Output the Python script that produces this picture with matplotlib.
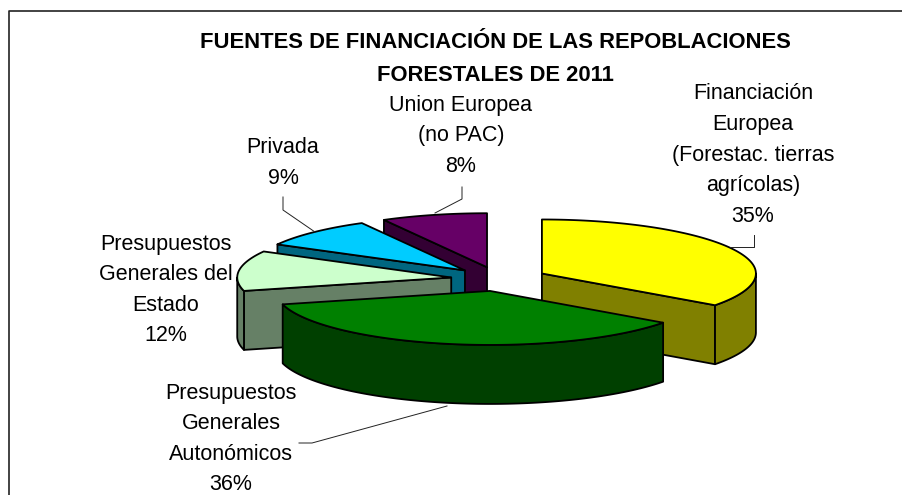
import numpy as np
import matplotlib
matplotlib.use('Agg')
import matplotlib.pyplot as plt
from matplotlib.patches import Polygon
from matplotlib.colors import to_rgb

plt.rcParams['font.family'] = ['Liberation Sans', 'DejaVu Sans']

sources = ['Financiación\nEuropea\n(Forestac. tierras\nagrícolas)',
           'Presupuestos\nGenerales\nAutonómicos',
           'Presupuestos\nGenerales del\nEstado',
           'Privada',
           'Union Europea\n(no PAC)']
shares = [35, 36, 12, 9, 8]
colors = ['#FFFF00', '#008000', '#CCFFCC', '#00CCFF', '#660066']

# label placement in pixels, same order as sources
label_x = [753, 231, 166, 283, 461]
label_y = [155, 439, 290, 163, 136]
leaders = [[(730, 247), (754, 247), (754, 235)],
           [(299, 443), (312, 443), (447, 406)],
           [],
           [(283, 197), (283, 210), (315, 232)],
           [(462, 187), (462, 199), (435, 213)]]

# 3d look of the pie, in pixels
cx, cy = 499, 279
rx, ry = 214, 54
depth = 59
explode = 0.225
edge = 1.3


def rim(a, b, x0, y0):
    t = np.radians(np.linspace(a, b, max(int(abs(b - a)) * 2, 2)))
    return np.column_stack((x0 + rx * np.sin(t), y0 - ry * np.cos(t)))


def add_face(ax, pts, color):
    ax.add_patch(Polygon(pts, closed=True, fc=color, ec='black', lw=edge, joinstyle='round'))


def draw_slice(ax, a, b, color):
    mid = np.radians((a + b) / 2)
    x0 = cx + explode * rx * np.sin(mid)
    y0 = cy - explode * ry * np.cos(mid)
    side = tuple(c * 0.5 for c in to_rgb(color))
    down = np.array([0, depth])
    apex = np.array([x0, y0])

    # flat cut faces, only the ones turned to the viewer
    if np.cos(np.radians(a - 90)) < -1e-6:
        p = rim(a, a, x0, y0)[0]
        add_face(ax, [apex, p, p + down, apex + down], side)
    if np.cos(np.radians(b + 90)) < -1e-6:
        p = rim(b, b, x0, y0)[0]
        add_face(ax, [apex, p, p + down, apex + down], side)

    # outer wall
    lo, hi = max(a, 90), min(b, 270)
    if hi > lo:
        arc = rim(lo, hi, x0, y0)
        add_face(ax, np.vstack((arc, arc[::-1] + down)), side)

    add_face(ax, np.vstack((apex, rim(a, b, x0, y0))), color)


fig = plt.figure(figsize=(9.03, 4.95), dpi=100)
ax = fig.add_axes([0, 0, 1, 1])
ax.set_xlim(0, 903)
ax.set_ylim(495, 0)
ax.axis('off')

# chart frame runs off the right and bottom of the picture
ax.plot([9.5, 9.5, 903], [495, 11, 11], color='#222222', lw=1.2)

edges = np.concatenate(([0], np.cumsum(shares))) * 360 / sum(shares)
for i in [4, 3, 2, 0, 1]:
    draw_slice(ax, edges[i], edges[i + 1], colors[i])

for line in leaders:
    if line:
        xs, ys = zip(*line)
        ax.plot(xs, ys, color='#222222', lw=0.7)

for name, share, x, y in zip(sources, shares, label_x, label_y):
    ax.text(x, y, f'{name}\n{share}%', ha='center', va='center', fontsize=15.5,
            linespacing=1.6, color='black')

ax.text(495, 59, 'FUENTES DE FINANCIACIÓN DE LAS REPOBLACIONES\nFORESTALES DE 2011',
        ha='center', va='center', fontsize=15.8, fontweight='bold', linespacing=1.7)

fig.savefig('out.png', dpi=100)
